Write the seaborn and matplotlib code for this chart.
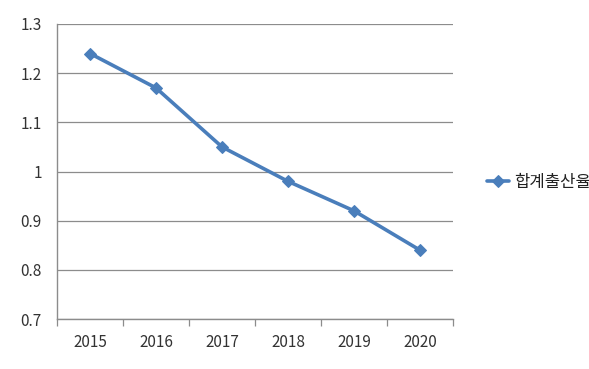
import pandas as pd
import matplotlib.pyplot as plt
import seaborn as sns
from matplotlib.ticker import FixedLocator

years = ["2015", "2016", "2017", "2018", "2019", "2020"]
tfr = [1.24, 1.17, 1.05, 0.98, 0.92, 0.84]
series_name = "합계출산율"

sns.set_theme(style="white")
plt.rcParams['font.family'] = ['Noto Sans CJK KR', 'DejaVu Sans']

df = pd.DataFrame({"year": years, "value": tfr, "series": series_name})

fig = plt.figure(figsize=(5.89, 3.69), dpi=100)
ax = fig.add_axes([57 / 589, 1 - 319 / 369, 396 / 589, 295 / 369])

color = "#4a7ebb"
sns.lineplot(data=df, x="year", y="value", hue="series", palette=[color],
             marker="D", markersize=6.5, markeredgecolor=color, linewidth=2.6,
             sort=False, ax=ax)

ax.set_xlim(-0.5, len(years) - 0.5)
ax.set_ylim(0.7, 1.3)
ax.set_yticks([0.7, 0.8, 0.9, 1.0, 1.1, 1.2, 1.3])
ax.set_yticklabels(["0.7", "0.8", "0.9", "1", "1.1", "1.2", "1.3"])
ax.yaxis.grid(True, color="#8c8c8c", linewidth=0.9)
ax.set_axisbelow(True)

ax.set_xlabel("")
ax.set_ylabel("")

for s in ["top", "right"]:
    ax.spines[s].set_visible(False)
for s in ["left", "bottom"]:
    ax.spines[s].set_color("#8c8c8c")
    ax.spines[s].set_linewidth(1.0)

ax.tick_params(axis="x", which="major", length=0, pad=11, labelsize=11, labelcolor="#333333")
ax.tick_params(axis="y", which="major", length=5, width=0.9, color="#8c8c8c", pad=6,
               labelsize=11, labelcolor="#333333")
ax.xaxis.set_minor_locator(FixedLocator([i - 0.5 for i in range(len(years) + 1)]))
ax.tick_params(axis="x", which="minor", bottom=True, length=5, width=0.9, color="#8c8c8c")

leg = ax.legend(loc="center left", bbox_to_anchor=(472 / 589, 1 - 182 / 369),
                bbox_transform=fig.transFigure, frameon=False, fontsize=12,
                handlelength=1.3, handletextpad=0.3)
for t in leg.get_texts():
    t.set_color("#222222")

fig.savefig("out.png", dpi=100)
